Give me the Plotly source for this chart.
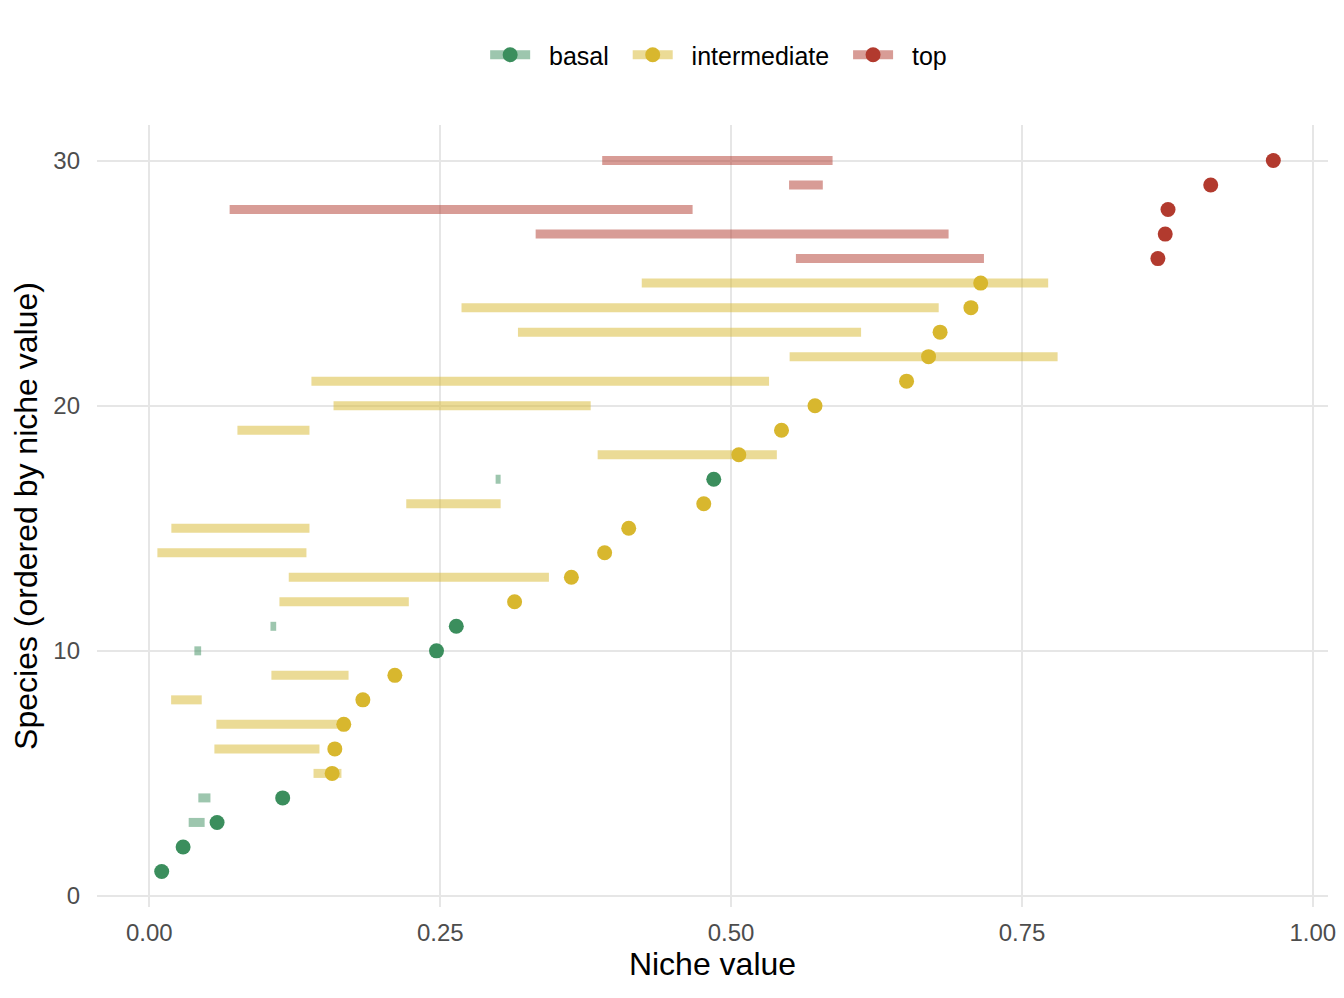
import plotly.graph_objects as go

species = list(range(1, 31))
group = (["basal"] * 4 + ["intermediate"] * 5 + ["basal"] * 2 + ["intermediate"] * 5 +
         ["basal"] + ["intermediate"] * 8 + ["top"] * 5)
niche = [0.0106, 0.0290, 0.0582, 0.1146, 0.1571, 0.1594, 0.1671, 0.1835, 0.2110, 0.2468,
         0.2638, 0.3139, 0.3627, 0.3913, 0.4120, 0.4765, 0.4851, 0.5066, 0.5433, 0.5721,
         0.6508, 0.6697, 0.6796, 0.7061, 0.7145, 0.8668, 0.8731, 0.8755, 0.9122, 0.9660]
range_lo = [None, None, 0.0338, 0.0421, 0.1411, 0.0559, 0.0576, 0.0187, 0.1049, 0.0387,
            0.1041, 0.1118, 0.1198, 0.0069, 0.0189, 0.2208, 0.2976, 0.3853, 0.0757, 0.1583,
            0.1393, 0.5503, 0.3168, 0.2683, 0.4232, 0.5557, 0.3320, 0.0690, 0.5498, 0.3892]
range_hi = [None, None, 0.0475, 0.0525, 0.1651, 0.1462, 0.1634, 0.0450, 0.1712, 0.0445,
            0.1090, 0.2230, 0.3434, 0.1350, 0.1376, 0.3019, 0.3019, 0.5393, 0.1376, 0.3793,
            0.5326, 0.7806, 0.6117, 0.6784, 0.7725, 0.7173, 0.6869, 0.4669, 0.5788, 0.5872]

groups = ["basal", "intermediate", "top"]
colors = {"basal": "#3B8E5D", "intermediate": "#D8B72E", "top": "#B23A2E"}
bar_colors = {"basal": "rgba(59,142,93,0.5)", "intermediate": "rgba(216,183,46,0.5)",
              "top": "rgba(178,58,46,0.5)"}

fig = go.Figure()
BAR_W = 9
MS = 15

# range bars
for g in groups:
    xs, ys = [], []
    for s, gg, lo, hi in zip(species, group, range_lo, range_hi):
        if gg == g and lo is not None:
            xs += [lo, hi, None]
            ys += [s, s, None]
    fig.add_trace(go.Scatter(x=xs, y=ys, mode="lines", showlegend=False,
                             line=dict(color=bar_colors[g], width=BAR_W),
                             hoverinfo="skip"))

# points
for g in groups:
    xs = [v for v, gg in zip(niche, group) if gg == g]
    ys = [s for s, gg in zip(species, group) if gg == g]
    fig.add_trace(go.Scatter(x=xs, y=ys, mode="markers", showlegend=False,
                             marker=dict(color=colors[g], size=MS, line=dict(width=0))))

# legend entries
NB = "\u00a0"
for i, g in enumerate(groups):
    trail = NB * 2 if i < len(groups) - 1 else ""
    fig.add_trace(go.Scatter(x=[None], y=[None], mode="lines+markers",
                             name=NB * 2 + g + trail,
                             line=dict(color=bar_colors[g], width=BAR_W),
                             marker=dict(color=colors[g], size=MS)))

font_family = "Liberation Sans, Arial, sans-serif"
fig.update_layout(
    width=1344, height=998,
    margin=dict(l=97, r=16, t=125, b=91, autoexpand=False),
    plot_bgcolor="white", paper_bgcolor="white",
    font=dict(family=font_family, color="#000000"),
    showlegend=True,
    legend=dict(orientation="h", x=0.505, xanchor="center", y=1.0895, yanchor="middle",
                yref="paper", font=dict(size=25, color="#000000"),
                itemwidth=40, traceorder="normal"),
    xaxis=dict(range=[-0.045, 1.013], tickvals=[0, 0.25, 0.5, 0.75, 1.0],
               ticktext=["0.00", "0.25", "0.50", "0.75", "1.00"], automargin=False,
               showgrid=True, gridcolor="#E6E6E6", gridwidth=2, zeroline=False,
               showline=False, ticks="", tickfont=dict(size=24, color="#4D4D4D"),
               ticklabelstandoff=9,
               title=dict(text="Niche value", font=dict(size=32, color="#000000"), standoff=6)),
    yaxis=dict(range=[-0.45, 31.45], tickvals=[0, 10, 20, 30], automargin=False,
               showgrid=True, gridcolor="#E6E6E6", gridwidth=2, zeroline=False,
               showline=False, ticks="", tickfont=dict(size=24, color="#4D4D4D"),
               ticklabelstandoff=16,
               title=dict(text="Species (ordered by niche value)",
                          font=dict(size=32, color="#000000"), standoff=6)),
)

fig.write_html("out.html")
